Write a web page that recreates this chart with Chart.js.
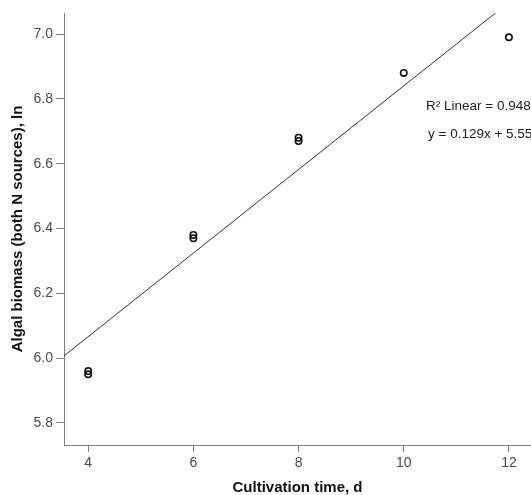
<!DOCTYPE html>
<html>
<head>
<meta charset="utf-8">
<script src="https://cdn.jsdelivr.net/npm/chart.js@4.4.1/dist/chart.umd.min.js"></script>
<style>
  html, body { margin: 0; padding: 0; background: #fff; }
  canvas { display: block; }
</style>
</head>
<body>
<canvas id="algaeChart" width="531" height="495"></canvas>
<script>
// data
const cultivationDays = [4, 4, 6, 6, 8, 8, 10, 12];
const algalBiomassLn = [5.96, 5.95, 6.38, 6.37, 6.68, 6.67, 6.88, 6.99];

// fitted line, ends taken where it meets the plot frame
const fitDays = [3.54, 11.76];
const fitBiomass = [6.007, 7.067];

const xTicks = [4, 6, 8, 10, 12];
const yTicks = [5.8, 6.0, 6.2, 6.4, 6.6, 6.8, 7.0];

const fitLabels = ['R² Linear = 0.948', 'y = 0.129x + 5.55'];

const FONT = '"Liberation Sans", Arial, sans-serif';
const AXIS_GREY = '#808080';

/**
 * Writes the R² and equation text of the fit, SPSS style.
 */
const fitTextPlugin = {
    id: 'fitText',
    afterDraw(chart) {
        const ctx = chart.ctx;
        ctx.save();
        ctx.fillStyle = '#222';
        ctx.font = '13.5px ' + FONT;
        ctx.textBaseline = 'alphabetic';
        ctx.fillText(fitLabels[0], 426, 110);
        ctx.fillText(fitLabels[1], 428, 138);
        ctx.restore();
    }
};

function initializeChart() {
    const ctx = document.getElementById('algaeChart').getContext('2d');

    new Chart(ctx, {
        type: 'scatter',
        data: {
            datasets: [
                {
                    label: 'Observed',
                    data: cultivationDays.map((d, i) => ({ x: d, y: algalBiomassLn[i] })),
                    pointRadius: 3.2,
                    pointBorderWidth: 1.6,
                    pointBorderColor: '#111',
                    pointBackgroundColor: 'rgba(0,0,0,0)',
                    showLine: false
                },
                {
                    label: 'Linear fit',
                    data: fitDays.map((d, i) => ({ x: d, y: fitBiomass[i] })),
                    showLine: true,
                    borderColor: '#333',
                    borderWidth: 1,
                    pointRadius: 0,
                    fill: false
                }
            ]
        },
        options: {
            responsive: false,
            animation: false,
            layout: { autoPadding: false, padding: { top: 13, right: 0, left: 0, bottom: 0 } },
            plugins: {
                legend: { display: false },
                tooltip: { enabled: false }
            },
            scales: {
                x: {
                    type: 'linear',
                    min: 3.54,
                    max: 12.42,
                    afterBuildTicks: scale => { scale.ticks = xTicks.map(v => ({ value: v })); },
                    afterFit: scale => {
                        scale.height = 50;
                        scale.paddingLeft = 0;
                        scale.paddingRight = 0;
                    },
                    grid: { drawOnChartArea: false, drawTicks: true, tickLength: 7, color: AXIS_GREY },
                    border: { color: AXIS_GREY, width: 1 },
                    ticks: {
                        color: '#4a4a4a',
                        padding: 3,
                        font: { family: FONT, size: 14 },
                        callback: v => String(v)
                    },
                    title: {
                        display: true,
                        text: 'Cultivation time, d',
                        color: '#111',
                        padding: { top: 0, bottom: 0 },
                        font: { family: FONT, size: 15, weight: 'bold', lineHeight: 1 }
                    }
                },
                y: {
                    type: 'linear',
                    min: 5.732,
                    max: 7.065,
                    afterBuildTicks: scale => { scale.ticks = yTicks.map(v => ({ value: v })); },
                    afterFit: scale => {
                        scale.width = 64;
                        scale.paddingTop = 0;
                        scale.paddingBottom = 0;
                    },
                    grid: { drawOnChartArea: false, drawTicks: true, tickLength: 8, color: AXIS_GREY },
                    border: { color: AXIS_GREY, width: 1 },
                    ticks: {
                        color: '#4a4a4a',
                        padding: 3,
                        font: { family: FONT, size: 14 },
                        callback: v => Number(v).toFixed(1)
                    },
                    title: {
                        display: true,
                        text: 'Algal biomass (both N sources), ln',
                        color: '#111',
                        padding: { top: 10, bottom: 0 },
                        font: { family: FONT, size: 15, weight: 'bold', lineHeight: 1 }
                    }
                }
            }
        },
        plugins: [fitTextPlugin]
    });
}

initializeChart();
</script>
</body>
</html>
